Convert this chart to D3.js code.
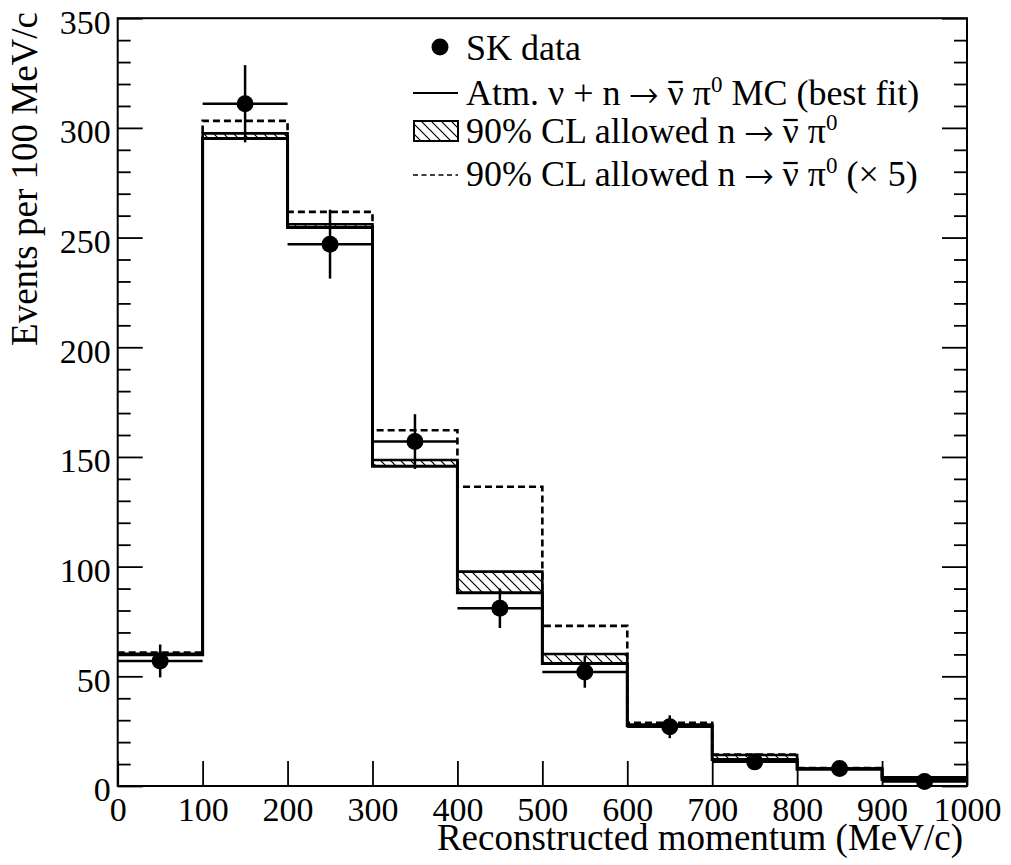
<!DOCTYPE html>
<html>
<head>
<meta charset="utf-8">
<script src="https://cdn.jsdelivr.net/npm/d3@7"></script>
<style>
  html, body { margin: 0; padding: 0; background: #fff; }
  svg { display: block; }
</style>
</head>
<body>
<script>
// Reconstructed pi0 momentum, 100 MeV/c bins
const binLow = [0, 100, 200, 300, 400, 500, 600, 700, 800, 900];
const binWidth = 100;
// Atmospheric neutrino MC, best fit
const mcBestFit = [59.8, 295.2, 254.6, 145.8, 88.1, 55.8, 27.5, 12.1, 7.6, 3.0];
// MC plus 90% CL allowed n -> nubar pi0 signal (top of hatched band)
const allowedTop = [60.3, 297.5, 256.1, 148.6, 97.7, 60.2, 28.0, 14.1, 8.0, 4.0];
// MC plus 5x the 90% CL allowed signal
const allowedX5 = [60.8, 303.2, 261.7, 162.2, 136.4, 73.0, 28.8, 14.3, 8.2, 4.0];
// SK data
const dataCounts = [57, 311, 247, 157, 81, 52, 27, 11, 8, 2];
const dataErrors = [7.5, 17.6, 15.7, 12.5, 9.0, 7.2, 5.2, 3.3, 2.8, 1.4];
// Axis ticks
const xMajor = [0, 100, 200, 300, 400, 500, 600, 700, 800, 900, 1000];
const yMajor = [0, 50, 100, 150, 200, 250, 300, 350];
const yMinor = [10, 20, 30, 40, 60, 70, 80, 90, 110, 120, 130, 140, 160, 170, 180, 190,
                210, 220, 230, 240, 260, 270, 280, 290, 310, 320, 330, 340];

const FONT = "Liberation Serif";
const ARROW_FONT = "FreeSerif";
const W = 1011, H = 865;
const pLeft = 117.7, pRight = 967, pTop = 18.2, pBottom = 786;

const x = d3.scaleLinear().domain([0, 1000]).range([pLeft, pRight]);
const y = d3.scaleLinear().domain([0, 350]).range([pBottom, pTop]);

const svg = d3.select("body").append("svg").attr("width", W).attr("height", H)
  .style("font-family", FONT);

// hatch pattern for the allowed-signal band
const defs = svg.append("defs");
const pat = defs.append("pattern").attr("id", "hatch")
  .attr("patternUnits", "userSpaceOnUse").attr("width", 10).attr("height", 10);
pat.append("path").attr("d", "M-2,-2 L12,12 M-7,3 L2,12 M3,-7 L12,2")
  .attr("stroke", "#000").attr("stroke-width", 1.2).attr("fill", "none");

const plot = svg.append("g");

// hatched band between MC and MC + allowed signal
plot.selectAll("rect.band").data(binLow).join("rect").attr("class", "band")
  .attr("x", d => x(d)).attr("width", d => x(d + binWidth) - x(d))
  .attr("y", (d, i) => y(allowedTop[i]))
  .attr("height", (d, i) => y(mcBestFit[i]) - y(allowedTop[i]))
  .attr("fill", "url(#hatch)");

function stepPoints(vals) {
  const pts = binLow.map((b, i) => [b, vals[i]]);
  pts.push([binLow[binLow.length - 1] + binWidth, vals[vals.length - 1]]);
  return pts;
}
const step = d3.line().x(d => x(d[0])).y(d => y(d[1])).curve(d3.curveStepAfter);

// x5 signal, dashed
plot.append("path").attr("d", step(stepPoints(allowedX5)))
  .attr("fill", "none").attr("stroke", "#000").attr("stroke-width", 2.6)
  .attr("stroke-dasharray", "7,4");
// top of allowed band
plot.append("path").attr("d", step(stepPoints(allowedTop)))
  .attr("fill", "none").attr("stroke", "#000").attr("stroke-width", 2.6);
// best-fit MC
plot.append("path").attr("d", step(stepPoints(mcBestFit)))
  .attr("fill", "none").attr("stroke", "#000").attr("stroke-width", 3);

// data: horizontal bars span the bin, vertical bars are the statistical errors
const dg = plot.append("g");
dg.selectAll("line.xe").data(binLow).join("line").attr("class", "xe")
  .attr("x1", d => x(d)).attr("x2", d => x(d + binWidth))
  .attr("y1", (d, i) => y(dataCounts[i])).attr("y2", (d, i) => y(dataCounts[i]))
  .attr("stroke", "#000").attr("stroke-width", 2.5);
dg.selectAll("line.ye").data(binLow).join("line").attr("class", "ye")
  .attr("x1", d => x(d + binWidth / 2)).attr("x2", d => x(d + binWidth / 2))
  .attr("y1", (d, i) => y(dataCounts[i] + dataErrors[i]))
  .attr("y2", (d, i) => y(dataCounts[i] - dataErrors[i]))
  .attr("stroke", "#000").attr("stroke-width", 2.5);
dg.selectAll("circle").data(binLow).join("circle")
  .attr("cx", d => x(d + binWidth / 2)).attr("cy", (d, i) => y(dataCounts[i]))
  .attr("r", 8.5).attr("fill", "#000");

// axes
function styleAxis(g, fs) {
  g.attr("font-family", FONT).attr("font-size", fs);
  g.select(".domain").remove();
  g.selectAll(".tick line").attr("stroke", "#000").attr("stroke-width", 1.8);
  g.selectAll(".tick text").attr("font-size", fs).attr("font-family", FONT)
    .style("font-family", FONT).attr("fill", "#000");
}
svg.append("g").attr("transform", `translate(${pLeft},0)`)
  .call(d3.axisLeft(y).tickValues(yMajor).tickSizeInner(-25).tickSizeOuter(0).tickPadding(7).tickFormat(d3.format("d")))
  .call(g => styleAxis(g, 34))
  .call(g => g.selectAll(".tick text").attr("dy", "0.44em"));
svg.append("g").attr("transform", `translate(${pLeft},0)`)
  .call(d3.axisLeft(y).tickValues(yMinor).tickSizeInner(-13).tickSizeOuter(0).tickFormat(""))
  .call(g => styleAxis(g, 10));
svg.append("g").attr("transform", `translate(${pRight},0)`)
  .call(d3.axisLeft(y).tickValues(yMajor).tickSizeInner(25).tickSizeOuter(0).tickFormat(""))
  .call(g => styleAxis(g, 10));
svg.append("g").attr("transform", `translate(${pRight},0)`)
  .call(d3.axisLeft(y).tickValues(yMinor).tickSizeInner(13).tickSizeOuter(0).tickFormat(""))
  .call(g => styleAxis(g, 10));
svg.append("g").attr("transform", `translate(0,${pBottom})`)
  .call(d3.axisBottom(x).tickValues(xMajor).tickSizeInner(-25).tickSizeOuter(0).tickPadding(11).tickFormat(d3.format("d")))
  .call(g => styleAxis(g, 34));

// frame
svg.append("rect").attr("x", pLeft).attr("y", pTop)
  .attr("width", pRight - pLeft).attr("height", pBottom - pTop)
  .attr("fill", "none").attr("stroke", "#000").attr("stroke-width", 2);

// axis titles
svg.append("text").attr("x", 963).attr("y", 850).attr("text-anchor", "end")
  .attr("font-family", FONT).style("font-family", FONT).attr("font-size", 37)
  .text("Reconstructed momentum (MeV/c)");
svg.append("text").attr("transform", "translate(37,12) rotate(-90)")
  .attr("text-anchor", "end").attr("font-family", FONT).style("font-family", FONT)
  .attr("font-size", 37).text("Events per 100 MeV/c");

// legend
const legX = 466, legFs = 36;
const rows = [
  { yc: 48, parts: ["SK data"] },
  { yc: 93, parts: ["Atm. ν + n ", { arrow: "→" }, " ", { bar: "ν" }, " π", { sup: "0" }, " MC (best fit)"] },
  { yc: 131, parts: ["90% CL allowed n ", { arrow: "→" }, " ", { bar: "ν" }, " π", { sup: "0" }] },
  { yc: 174, parts: ["90% CL allowed n ", { arrow: "→" }, " ", { bar: "ν" }, " π", { sup: "0" }, " (× 5)"] }
];
const leg = svg.append("g");
rows.forEach(r => {
  const t = leg.append("text").attr("x", legX).attr("y", r.yc + 12)
    .attr("font-family", FONT).style("font-family", FONT).attr("font-size", legFs);
  let idx = 0, bars = [], afterSup = false;
  r.parts.forEach(p => {
    if (typeof p === "string") {
      const ts = t.append("tspan").text(p);
      if (afterSup) { ts.attr("dy", 13); afterSup = false; }
      idx += p.length;
    } else if (p.arrow) {
      t.append("tspan").text(p.arrow).attr("font-family", ARROW_FONT).style("font-family", ARROW_FONT);
      idx += p.arrow.length;
    } else if (p.bar) {
      t.append("tspan").text(p.bar);
      bars.push(idx);
      idx += p.bar.length;
    } else if (p.sup) {
      t.append("tspan").text(p.sup).attr("font-size", 23).attr("dy", -13);
      idx += p.sup.length;
      afterSup = true;
    }
  });
  const node = t.node();
  bars.forEach(i => {
    const s = node.getStartPositionOfChar(i), e = node.getEndPositionOfChar(i);
    leg.append("line").attr("x1", s.x + 1).attr("x2", e.x - 1)
      .attr("y1", r.yc - 11).attr("y2", r.yc - 11)
      .attr("stroke", "#000").attr("stroke-width", 2.2);
  });
});
leg.append("circle").attr("cx", 440).attr("cy", 47).attr("r", 8.5).attr("fill", "#000");
leg.append("line").attr("x1", 413).attr("x2", 458).attr("y1", 93).attr("y2", 93)
  .attr("stroke", "#000").attr("stroke-width", 2.2);
leg.append("rect").attr("x", 414).attr("y", 121).attr("width", 44).attr("height", 20)
  .attr("fill", "url(#hatch)").attr("stroke", "#000").attr("stroke-width", 2);
leg.append("line").attr("x1", 413).attr("x2", 458).attr("y1", 175).attr("y2", 175)
  .attr("stroke", "#000").attr("stroke-width", 1.6).attr("stroke-dasharray", "5,3.5");
</script>
</body>
</html>
